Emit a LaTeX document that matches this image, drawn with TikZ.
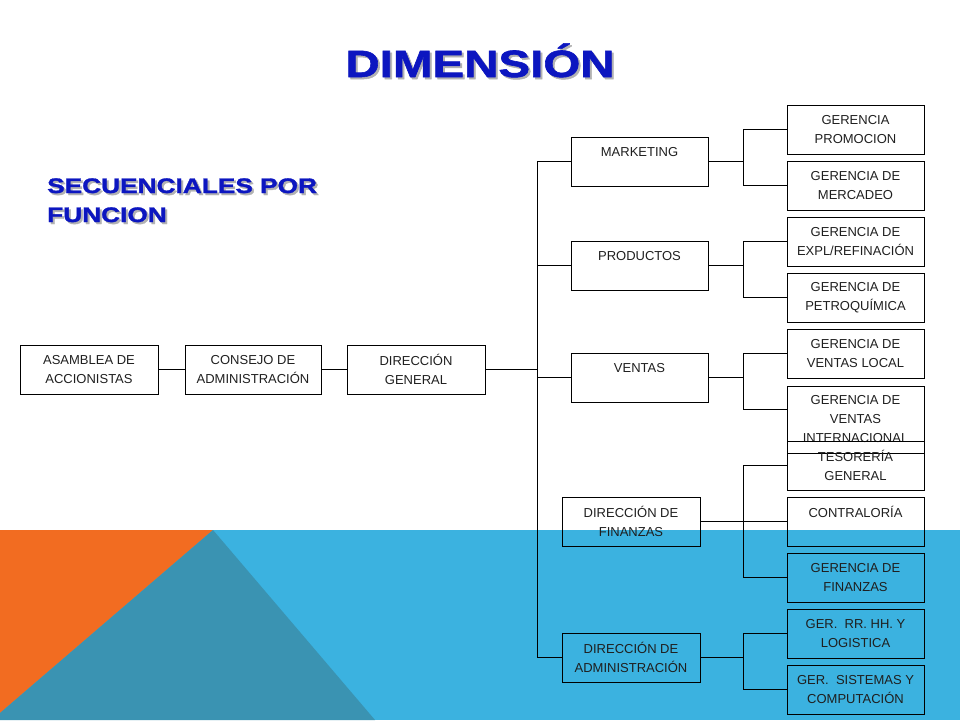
\documentclass[tikz,border=0pt]{standalone}
\usepackage{fontspec}
\setmainfont{Liberation Sans}
\newfontfamily\heavyfont{Liberation Sans}[FakeStretch=1.25,BoldFeatures={FakeBold=1.5}]
\usetikzlibrary{calc}
\definecolor{titleblue}{RGB}{12,22,192}
\definecolor{bandblue}{RGB}{59,178,224}
\definecolor{bandteal}{RGB}{58,147,178}
\definecolor{bandorange}{RGB}{242,108,33}
\newcommand{\sombra}[1]{\makebox[0pt][l]{\hspace{2pt}\raisebox{-2pt}{\color{black!30}#1}}#1}
\tikzset{caja/.style={draw=black, line width=1pt, minimum width=137pt, minimum height=49pt,
    inner sep=0pt, align=center, text=black!88, font=\fontsize{13}{19}\selectfont}}
\tikzset{linea/.style={line width=1pt}}
\tikzset{titulo/.style={inner sep=0pt, text=titleblue, align=left}}

\begin{document}
\begin{tikzpicture}[x=1pt,y=-1pt]
\useasboundingbox (0,0) rectangle (960,720);

% fondo
\fill[bandblue] (0,530) rectangle (960,720);
\fill[bandorange] (0,530) -- (213,530) -- (0,713) -- cycle;
\fill[bandteal] (213,530) -- (375,720) -- (0,720) -- (0,713) -- cycle;

% titulos
\node[titulo,anchor=base,font=\heavyfont\bfseries\fontsize{38}{38}\selectfont] (dim) at (480,77) {\sombra{DIMENSIÓN}};
\node[titulo,anchor=base west,font=\heavyfont\bfseries\fontsize{21}{29}\selectfont] (sec) at (47,222)
     {\sombra{SECUENCIALES POR}\\\sombra{FUNCION}};

\node[caja,minimum width=138pt] (asam) at (89,369.5) {ASAMBLEA DE\\ACCIONISTAS};
\node[caja,minimum width=136pt] (cons) at (253,369.5) {CONSEJO DE\\ADMINISTRACIÓN};
\node[caja,minimum width=138pt] (dg) at (416,369.5) {DIRECCIÓN\\GENERAL};

\node[caja] (mkt) at (639.5,161.5) {MARKETING\\\mbox{}};
\node[caja] (prod) at (639.5,265.5) {PRODUCTOS\\\mbox{}};
\node[caja] (vent) at (639.5,377.5) {VENTAS\\\mbox{}};
\node[caja,minimum width=138pt] (dfin) at (631,521.5) {DIRECCIÓN DE\\FINANZAS};
\node[caja,minimum width=138pt] (dadm) at (631,657.5) {DIRECCIÓN DE\\ADMINISTRACIÓN};

\node[caja] (gprom) at (855.5,129.5) {GERENCIA\\PROMOCION};
\node[caja] (gmerc) at (855.5,185.5) {GERENCIA DE\\MERCADEO};
\node[caja] (gexpl) at (855.5,241.5) {GERENCIA DE\\EXPL/REFINACIÓN};
\node[caja] (gpetro) at (855.5,297.5) {GERENCIA DE\\PETROQUÍMICA};
\node[caja] (gvloc) at (855.5,353.5) {GERENCIA DE\\VENTAS LOCAL};
\node[caja,minimum height=67pt] (gvint) at (855.5,419.5) {GERENCIA DE\\VENTAS\\INTERNACIONAL};
\node[caja] (gtes) at (855.5,465.5) {TESORERÍA\\GENERAL};
\node[caja] (gcont) at (855.5,521.5) {CONTRALORÍA\\\mbox{}};
\node[caja] (gfin) at (855.5,577.5) {GERENCIA DE\\FINANZAS};
\node[caja] (grrhh) at (855.5,633.5) {GER.~ RR. HH. Y\\LOGISTICA};
\node[caja] (gsis) at (855.5,689.5) {GER.~ SISTEMAS Y\\COMPUTACIÓN};

\coordinate (tronco) at (537,369.5);
\coordinate (bx) at (743,0);
\coordinate (gvint-in) at ($(gvint.west)+(0,-10)$);

\draw[linea] (asam) -- (cons);
\draw[linea] (cons) -- (dg);
\draw[linea] (dg) -- (tronco);
\draw[linea] (mkt.west) -- (mkt.west -| tronco) -- (dadm.west -| tronco) -- (dadm.west);
\foreach \n in {prod,vent}
  \draw[linea] (\n.west) -- (\n.west -| tronco);

\foreach \p/\a/\b in {mkt/gprom.west/gmerc.west, prod/gexpl.west/gpetro.west, vent/gvloc.west/gvint-in,
                      dfin/gtes.west/gfin.west, dadm/grrhh.west/gsis.west}
         {
           \draw[linea] (\p.east) -- (\p.east -| bx);
           \draw[linea] (\a) -- (\a -| bx) -- (\b -| bx) -- (\b);
         }
\draw[linea] (dfin.east -| bx) -- (gcont.west);

\end{tikzpicture}
\end{document}
